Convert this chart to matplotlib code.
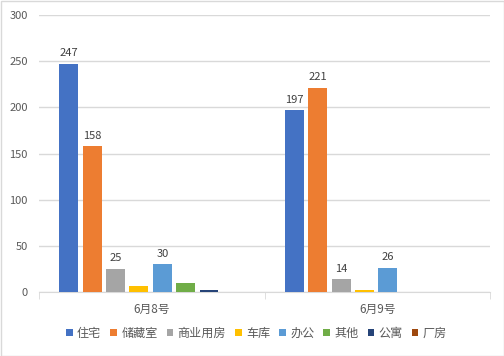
import matplotlib.pyplot as plt
import numpy as np

plt.rcParams['font.family'] = ['Noto Sans CJK SC', 'DejaVu Sans']

dates = ["6月8号", "6月9号"]
kinds = ["住宅", "储藏室", "商业用房", "车库", "办公", "其他", "公寓", "厂房"]
counts = {
    "住宅": [247, 197],
    "储藏室": [158, 221],
    "商业用房": [25, 14],
    "车库": [7, 2],
    "办公": [30, 26],
    "其他": [10, 0],
    "公寓": [2, 0],
    "厂房": [0, 0],
}
shown = ["住宅", "储藏室", "商业用房", "办公"]
colors = ["#4472C4", "#ED7D31", "#A5A5A5", "#FFC000",
          "#5B9BD5", "#70AD47", "#264478", "#9E480E"]

txt = "#595959"
fig = plt.figure(figsize=(5.04, 3.56), dpi=100)
ax = fig.add_axes([39/504, 1 - 292/356, 451/504, 277/356])
fig.patches.append(plt.Rectangle((0.5/504, 0.5/356), 503/504, 355/356,
                                 transform=fig.transFigure, fill=False,
                                 edgecolor="#D9D9D9", linewidth=1))

x = np.arange(len(dates))
pitch = 0.1036
width = 0.084
for i, k in enumerate(kinds):
    pos = x + (i - 3.5) * pitch - 0.005
    bars = ax.bar(pos, counts[k], width, color=colors[i], label=k, zorder=3)
    if k in shown:
        for b, v in zip(bars, counts[k]):
            ax.text(b.get_x() + b.get_width() / 2, v + 6, str(v),
                    ha="center", va="bottom", fontsize=8, color="#404040")

ax.set_xlim(-0.5, 1.5)
ax.set_ylim(0, 300)
ax.set_yticks(range(0, 301, 50))
ax.set_xticks(x)
ax.set_xticklabels(dates)
ax.set_xticks([-0.5, 0.5, 1.5], minor=True)
ax.tick_params(axis="x", which="major", length=0, pad=8, labelsize=8.5, labelcolor=txt)
ax.tick_params(axis="x", which="minor", length=5, color="#D9D9D9", direction="out")
ax.tick_params(axis="y", length=0, pad=8, labelsize=8, labelcolor=txt)
ax.grid(axis="y", color="#D9D9D9", linewidth=1, zorder=0)
for s in ["top", "right", "left"]:
    ax.spines[s].set_visible(False)
ax.spines["bottom"].set_color("#D9D9D9")

fig.legend(loc="center", bbox_to_anchor=(0.509, 1 - 333/356), ncol=8, frameon=False,
           fontsize=8.7, labelcolor=txt, handlelength=0.55, handleheight=0.55,
           handletextpad=0.35, columnspacing=0.75)

fig.savefig("out.png", dpi=100)
